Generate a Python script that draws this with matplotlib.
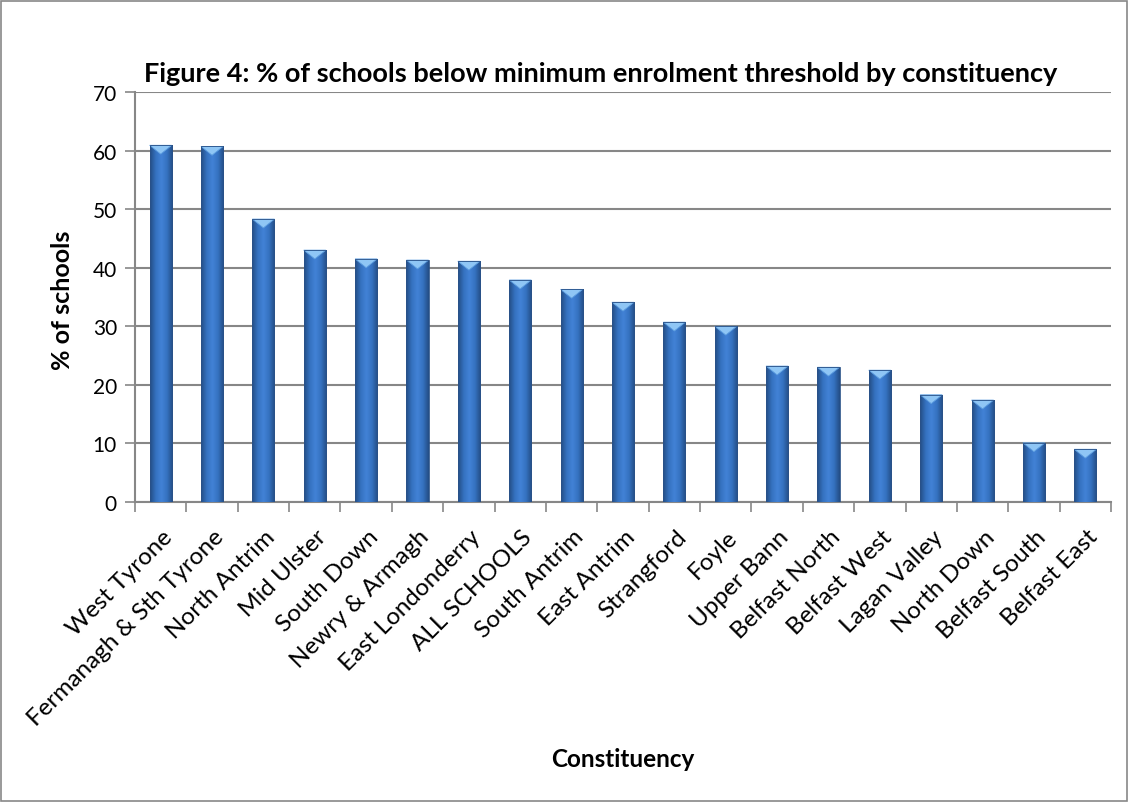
import matplotlib
matplotlib.use("Agg")
import matplotlib.pyplot as plt
import numpy as np
from matplotlib.patches import Polygon, Rectangle
from matplotlib.colors import LinearSegmentedColormap
import matplotlib.transforms as mtransforms

categories = ["West Tyrone", "Fermanagh & Sth Tyrone", "North Antrim", "Mid Ulster",
              "South Down", "Newry & Armagh", "East Londonderry", "ALL SCHOOLS",
              "South Antrim", "East Antrim", "Strangford", "Foyle", "Upper Bann",
              "Belfast North", "Belfast West", "Lagan Valley", "North Down",
              "Belfast South", "Belfast East"]
values = [60.9, 60.7, 48.3, 43.0, 41.5, 41.3, 41.1, 37.9, 36.3, 34.1, 30.7, 30.0,
          23.2, 23.0, 22.5, 18.3, 17.4, 10.1, 9.0]
yticks = [0, 10, 20, 30, 40, 50, 60, 70]

plt.rcParams['font.family'] = ['Lato', 'DejaVu Sans']

fig = plt.figure(figsize=(11.29, 8.03), dpi=100)
ax = fig.add_axes([135/1129, 1-503/803, (1111-135)/1129, (503-93)/803])

x = np.arange(len(categories))
bars = ax.bar(x, values, width=0.43, color='none', edgecolor='none', zorder=3)

cmap = LinearSegmentedColormap.from_list('cyl', ['#234d85', '#3572c0', '#4282d6', '#3572c0', '#234d85'])
grad = np.linspace(0, 1, 64).reshape(1, -1)
for b, v in zip(bars, values):
    x0 = b.get_x(); w = b.get_width()
    im = ax.imshow(grad, extent=(x0, x0 + w, 0, v), cmap=cmap, aspect='auto', zorder=3,
                   interpolation='bilinear')
    im.set_clip_path(b)
    tri = Polygon([[x0, v], [x0 + w, v], [x0 + w / 2, v - 1.5]], closed=True,
                  facecolor='#8fc6f5', edgecolor='#5d9ee0', linewidth=0.6, zorder=4)
    ax.add_patch(tri)
    ax.add_patch(Rectangle((x0, 0), w, v, facecolor='none', edgecolor='#2a5288',
                           linewidth=0.6, zorder=4))

ax.set_xlim(-0.5, len(categories) - 0.5)
ax.set_ylim(0, 70)
ax.set_yticks(yticks)
ax.set_yticklabels([str(t) for t in yticks], fontsize=15)
ax.yaxis.grid(True, color='#878787', linewidth=1.5, zorder=0)
ax.set_axisbelow(True)

ax.set_xticks(x)
ax.set_xticklabels(categories, rotation=45, ha='right', rotation_mode='anchor', fontsize=17.5)
ax.tick_params(axis='x', length=0, pad=17)
offset = mtransforms.ScaledTranslation(1/100, 0, fig.dpi_scale_trans)
for lab in ax.get_xticklabels():
    lab.set_transform(lab.get_transform() + offset)
ax.set_xticks(np.arange(-0.5, len(categories), 1), minor=True)
ax.tick_params(axis='x', which='minor', length=7, width=1.2, color='#878787', direction='out')
ax.tick_params(axis='y', length=7, width=1.2, color='#878787', direction='out', pad=6)

for s in ['top', 'right']:
    ax.spines[s].set_visible(False)
for s in ['left', 'bottom']:
    ax.spines[s].set_color('#878787')
    ax.spines[s].set_linewidth(1.5)

fig.text(601/1129, 1-74/803, "Figure 4: % of schools below minimum enrolment threshold by constituency",
         ha='center', va='center', fontsize=19.5, fontweight='bold')
fig.text(62/1129, 1-300/803, "% of schools", ha='center', va='center', rotation=90,
         fontsize=18, fontweight='bold')
fig.text(623/1129, 1-760/803, "Constituency", ha='center', va='center',
         fontsize=17.5, fontweight='bold')

fig.patches.append(Rectangle((1/1129, 1/803), 1 - 3/1129, 1 - 3/803, transform=fig.transFigure,
                             facecolor='none', edgecolor='#878787', linewidth=1.2))

fig.savefig("out.png", dpi=100)
